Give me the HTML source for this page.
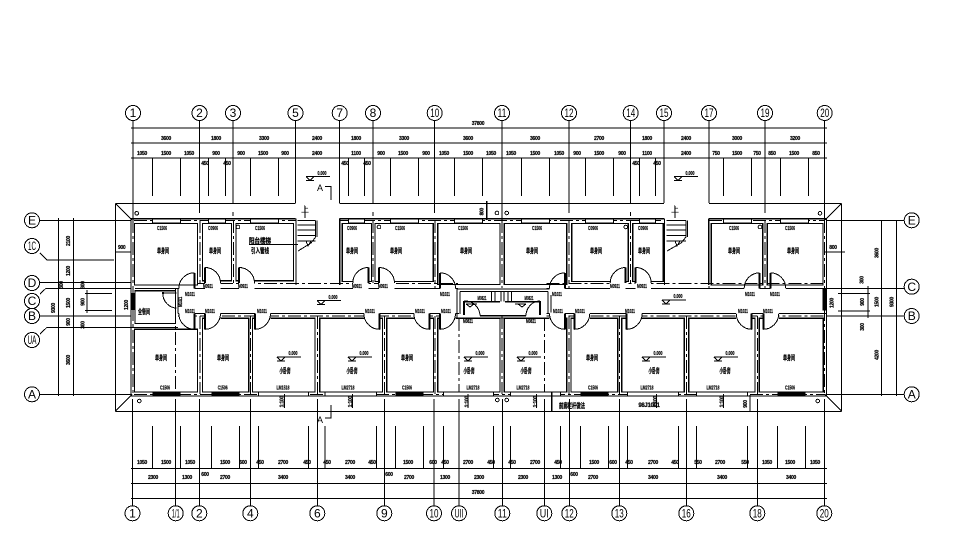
<!DOCTYPE html>
<html><head><meta charset="utf-8"><style>
html,body{margin:0;padding:0;background:#fff}
svg{display:block;shape-rendering:crispEdges}
text{font-family:"Liberation Sans","Noto Sans CJK SC",sans-serif;fill:#000;text-anchor:middle}
.s{font-size:5px;font-weight:bold;letter-spacing:-.3px;stroke:#000;stroke-width:.2px}
.p text{font-size:5px;letter-spacing:0}
.r{font-size:7px;font-weight:bold;stroke:#000;stroke-width:.25px}
.b{font-size:12px}
.l{fill:none;stroke:#000;stroke-width:1}
.h{fill:none;stroke:#000;stroke-width:1.1}
.d{fill:none;stroke:#000;stroke-width:1;stroke-dasharray:13 3 3 3}
.m{fill:#000}
circle{fill:#fff;stroke:#000;stroke-width:1}
</style></head><body>
<svg width="977" height="549" viewBox="0 0 977 549" xmlns="http://www.w3.org/2000/svg">
<defs>
<g id="q"><path d="M-15.5-3H0V6.5H-15.5Z" fill="#fff"/><path d="M0-15.5A15.5 15.5 0 0 0-15.5 0" class="l"/><path d="M0-15.5V0" fill="none" stroke="#000" stroke-width="2"/></g>
<g id="n"><path d="M-15.5-5.5H0V1H-15.5Z" fill="#fff"/><path d="M0-16A15.5 16 0 0 0-15.5 0" class="l"/><path d="M0-16V0" fill="none" stroke="#000" stroke-width="2"/></g>
<g id="v"><path d="M0 0H24M0 0L4 4L8 0M0 4H8" class="l"/></g>
</defs>
<rect width="977" height="549" fill="#fff"/>

<!-- dimension lines -->
<path class="l" d="M131 128H827M131 143H827M131 158H827M131 468.7H827M131 483.3H827M131 498.3H827"/>
<!-- top axes -->
<path class="l" d="M133 120V220M199.5 120V213M233 120V203M233 212V216M295.5 120V203M339.7 120V203M373 120V203M373 212V216M434.7 120V213M502 120V220M569 120V213M630.7 120V203M630.7 212V216M664 120V203M709 120V203M765 120V213M824.7 120V220"/>
<!-- top ticks -->
<path class="l" d="M152.7 158V196M180.7 158V196M208.7 158V196M225.3 158V196M250.7 158V196M278.7 158V196M348.3 158V196M364.3 158V196M390.7 158V196M418.7 158V196M454.7 158V196M482.7 158V196M521.3 158V196M549.3 158V196M585.7 158V196M613.7 158V196M639.7 158V196M655.3 158V196M723.3 158V196M751.3 158V196M780.3 158V196M808.3 158V196"/>
<!-- bottom axes -->
<path class="l" d="M132.5 399V506M175.7 399V506M199.3 399V506M250.3 399V506M317.3 399V506M384.3 399V506M434 399V506M459 399V506M502.3 399V506M544.3 399V506M569.3 399V506M619.3 399V506M686.3 399V506M757.3 399V506M824.3 399V506"/>
<!-- bottom ticks -->
<path class="l" d="M152.3 426V468M180.7 426V468M211.3 426V468M239.3 426V468M258.3 426V468M308.3 426V468M325 426V468M376.3 426V468M395.3 426V468M423.3 426V468M443.3 426V468M493.3 426V468M510.3 426V468M560.3 426V468M580.3 426V468M608.3 426V468M627.3 426V468M678.3 426V468M696.3 426V468M747.3 426V468M777.3 426V468M805.3 426V468"/>
<!-- eaves -->
<path class="l" d="M115.3 203.3H295.5M339.7 203.3H664M709 203.3H841.7M115.3 411.3H841.7M115.3 203.3V411.3M841.7 203.3V411.3M115.3 203.3L132 220M841.7 203.3L825 220M115.3 411.3L132 394.5M841.7 411.3L825 394.5"/>
<!-- horizontal axes -->
<path class="l" d="M40 220.3H131M40 282.7H131M40 294L46 288.3H131M40 316H131M40 334L47 327.3H131M40 394.3H131M40 253L47 260H114M826 220.3H904M826 288.3H904M826 316H904M826 394.3H904"/>
<!-- vertical dims -->
<path class="l" d="M58.3 218V396M73.3 218V396M881.7 220V396M896.7 220V396M87 290V313M85 293.3H112M85 310.7H112M868 286V318M838 293.3H870M838 311H870M115 252H131M825 252H845"/>
<!-- rooms -->
<g class="h">
<rect x="134.5" y="223.5" width="63" height="61.5"/>
<rect x="202.5" y="223.5" width="28.8" height="57.2"/>
<rect x="236" y="223.5" width="57.5" height="57.2"/>
<rect x="342.3" y="223.5" width="29.4" height="58"/>
<rect x="375" y="223.5" width="58.3" height="58"/>
<rect x="437.7" y="223.5" width="62.3" height="61"/>
<rect x="504.3" y="223.5" width="62.4" height="61"/>
<rect x="571.7" y="223.5" width="56.6" height="58"/>
<rect x="632.7" y="223.5" width="30.6" height="58"/>
<rect x="711.3" y="223.5" width="51.4" height="61.5"/>
<rect x="767.3" y="223.5" width="55.7" height="61.5"/>
<rect x="134.3" y="329.3" width="63.2" height="62.7"/>
<rect x="202.7" y="318.3" width="46" height="73.7"/>
<rect x="252.7" y="318.3" width="62.3" height="73.7"/>
<rect x="319.7" y="318.3" width="62.6" height="73.7"/>
<rect x="386.7" y="318.3" width="46.6" height="73.7"/>
<rect x="437.7" y="318.3" width="62.3" height="73.7"/>
<rect x="504.3" y="318.3" width="62.4" height="73.7"/>
<rect x="571" y="318.3" width="46.7" height="73.7"/>
<rect x="621.7" y="318.3" width="62.6" height="73.7"/>
<rect x="688.7" y="318.3" width="66.3" height="73.7"/>
<rect x="759.3" y="318.3" width="64" height="73.7"/>
<rect x="135" y="290.7" width="40.3" height="32.6"/>
</g>
<!-- outer walls -->
<path class="h" d="M131 218.7V396H826.5V218.7H709M664 218.7H339.7M295.5 218.7H131M296 218.7V285M339.7 218.7V285M664.5 218.7V285M708.7 218.7V285"/>
<path class="h" d="M131 327.3H178M178 288.3V313.3M135 288.3H178"/>
<!-- corridor walls -->
<path class="l" d="M178 288.3H458M546.7 288.3H826M178 313.3H460M546.7 313.3H826"/>
<path class="d" d="M198 283.5H458M546.7 283.5H824M178 316H458M546.7 316H824"/>
<!-- axis dashes in walls -->
<path class="d" d="M133 220V394M199.8 220V283M233.7 220V283M296 220V283M339.8 220V283M373 220V283M435 220V288M502.2 220V288M569 220V288M630.5 220V283M664.3 220V283M709 220V288M765 220V288M824.7 220V394M199.8 316V394M250.5 316V394M317.5 316V394M384.5 316V394M435 316V394M502.2 316V394M569 316V394M619.5 316V394M686.5 316V394M757.3 316V394M175.7 288V394M459 318V394M544.3 318V394"/>
<path class="d" d="M134 220.5H296M340 220.5H664M709 220.5H825M134 394.3H825"/>
<!-- windows -->
<g fill="#fff" stroke="#000"><rect x="152.7" y="219" width="28" height="4"/><rect x="208.7" y="219" width="16.6" height="4"/><rect x="250.7" y="219" width="28" height="4"/><rect x="348.3" y="219" width="16" height="4"/><rect x="390.7" y="219" width="28" height="4"/><rect x="454.7" y="219" width="28" height="4"/><rect x="521.3" y="219" width="28" height="4"/><rect x="585.7" y="219" width="28" height="4"/><rect x="639.7" y="219" width="15.6" height="4"/><rect x="723.3" y="219" width="28" height="4"/><rect x="780.3" y="219" width="28" height="4"/>
<rect x="258.3" y="392" width="50" height="4"/><rect x="325" y="392" width="51.3" height="4"/><rect x="443.3" y="392" width="50" height="4"/><rect x="510.3" y="392" width="50" height="4"/><rect x="627.3" y="392" width="51" height="4"/><rect x="696.3" y="392" width="51" height="4"/></g>
<g class="m"><rect x="152.3" y="392" width="28.4" height="4"/><rect x="211.3" y="392" width="28" height="4"/><rect x="395.3" y="392" width="28" height="4"/><rect x="580.3" y="392" width="28" height="4"/><rect x="777.3" y="392" width="28" height="4"/><rect x="131" y="293" width="3.5" height="17"/><rect x="822.7" y="289" width="3.8" height="21.7"/></g>

<!-- washroom -->
<path fill="#fff" d="M459 289H546V313.8H459Z"/>
<path class="h" d="M457 288V318M460 291.5V314M457 289H551M460 291.5H548M548 291.5V314M551 288V318M464 301.7H500M505 301.7H540M480 315.7H526M480 318H526"/>
<path class="l" d="M491.7 291.5V301.7M501 291.5V301.7M495 291.5V301.7M504 291.5V301.7M511.7 291.5V301.7M508 291.5V301.7"/>
<path class="l" d="M464 301A15 15 0 0 1 480 315.7M540 301A14 15 0 0 0 526 315.7"/>
<path fill="none" stroke="#000" stroke-width="2" d="M464 301V315M540 301V315"/>
<!-- doors -->
<use href="#q" transform="translate(194.3,288.3)"/>
<use href="#q" transform="translate(205,283) scale(-1,1)"/>
<use href="#q" transform="translate(239,283) scale(-1,1)"/>
<use href="#q" transform="translate(368.3,283)"/>
<use href="#q" transform="translate(379,283) scale(-1,1)"/>
<use href="#q" transform="translate(440,288.3) scale(-1,1)"/>
<use href="#q" transform="translate(565,288.3)"/>
<use href="#q" transform="translate(625.7,283)"/>
<use href="#q" transform="translate(635.7,283) scale(-1,1)"/>
<use href="#q" transform="translate(759.7,288.3)"/>
<use href="#q" transform="translate(770.3,288.3) scale(-1,1)"/>
<use href="#n" transform="translate(194.3,313.3) scale(1,-1)"/>
<use href="#n" transform="translate(205,313.3) scale(-1,-1)"/>
<use href="#n" transform="translate(255,313.3) scale(-1,-1)"/>
<use href="#n" transform="translate(379.3,313.3) scale(1,-1)"/>
<use href="#n" transform="translate(429.3,313.3) scale(1,-1)"/>
<use href="#n" transform="translate(440,313.3) scale(-1,-1)"/>
<use href="#n" transform="translate(565,313.3) scale(1,-1)"/>
<use href="#n" transform="translate(574.3,313.3) scale(-1,-1)"/>
<use href="#n" transform="translate(626.7,313.3) scale(-1,-1)"/>
<use href="#n" transform="translate(751.7,313.3) scale(1,-1)"/>
<use href="#n" transform="translate(763.3,313.3) scale(-1,-1)"/>
<path class="l" d="M162.7 293H176.7M162.7 293A14 15 0 0 0 176.7 308"/>
<rect x="162" y="292" width="2" height="2" class="m"/>
<!-- stairs -->
<path class="l" d="M297.7 220.7H315.7M297.7 225H315.7M297.7 230H315.7M297.7 235.7H315.7M297.7 241H315.7M315.7 220.7V237L311 243L298 251M317 220.7V237M306 241L308 246L311 241M249 244.3H298M305 206V218"/>
<path class="l" d="M666.7 220.7H686M666.7 225H686M666.7 230H686M666.7 235.7H686M666.7 241H686M686 220.7V237L681 243L667 251M687.3 220.7V237M675 241L677 246L680 241M675 206V218"/>
<!-- small circles -->
<g>
<circle cx="136.7" cy="213.3" r="1.8"/><circle cx="497" cy="213" r="1.8"/><circle cx="506.7" cy="213" r="1.8"/><circle cx="820" cy="213.3" r="1.8"/>
<circle cx="139.3" cy="401" r="1.8"/><circle cx="497.3" cy="400" r="1.8"/><circle cx="506.7" cy="400" r="1.8"/><circle cx="817.7" cy="401" r="1.8"/>
<circle cx="238" cy="227" r="1.8"/><circle cx="379" cy="227" r="1.8"/><circle cx="625.7" cy="227" r="1.8"/><circle cx="760" cy="227" r="1.8"/>
</g>
<!-- level marks -->
<use href="#v" x="277" y="357"/><use href="#v" x="317" y="300.7"/><use href="#v" x="348" y="357"/><use href="#v" x="464" y="357"/><use href="#v" x="517" y="357"/><use href="#v" x="642" y="357"/><use href="#v" x="714" y="357"/><use href="#v" x="662" y="300"/><use href="#v" x="306" y="176.7"/><use href="#v" x="674" y="176.7"/>
<path class="l" d="M466 304H477M466 304L470 307L474 304M515 304H526M518 304L522 307L526 304"/>
<!-- section marks -->
<path class="l" d="M325 186.7H331V200M325 418H331V405"/>
<!-- eave extras -->
<path class="h" d="M486.7 201V220M551.7 392V411M750 395V411M284.5 394V408M352.5 394V408M468 394V408M536.5 394V408M656.5 394V408M723.5 394V408"/>
<!-- bubbles -->
<g>
<circle cx="133" cy="113" r="7.5"/><circle cx="199.5" cy="113" r="7.5"/><circle cx="233" cy="113" r="7.5"/><circle cx="295.5" cy="113" r="7.5"/><circle cx="339.7" cy="113" r="7.5"/><circle cx="373" cy="113" r="7.5"/><circle cx="434.7" cy="113" r="7.5"/><circle cx="502" cy="113" r="7.5"/><circle cx="569" cy="113" r="7.5"/><circle cx="630.7" cy="113" r="7.5"/><circle cx="664" cy="113" r="7.5"/><circle cx="709" cy="113" r="7.5"/><circle cx="765" cy="113" r="7.5"/><circle cx="824.7" cy="113" r="7.5"/>
<circle cx="132.5" cy="513.3" r="7.5"/><circle cx="175.7" cy="513.3" r="7.5"/><circle cx="199.3" cy="513.3" r="7.5"/><circle cx="250.3" cy="513.3" r="7.5"/><circle cx="317.3" cy="513.3" r="7.5"/><circle cx="384.3" cy="513.3" r="7.5"/><circle cx="434" cy="513.3" r="7.5"/><circle cx="459" cy="513.3" r="7.5"/><circle cx="502.3" cy="513.3" r="7.5"/><circle cx="544.3" cy="513.3" r="7.5"/><circle cx="569.3" cy="513.3" r="7.5"/><circle cx="619.3" cy="513.3" r="7.5"/><circle cx="686.3" cy="513.3" r="7.5"/><circle cx="757.3" cy="513.3" r="7.5"/><circle cx="824.3" cy="513.3" r="7.5"/>
<circle cx="32" cy="220.3" r="7.5"/><circle cx="32" cy="246" r="7.5"/><circle cx="32" cy="283" r="7.5"/><circle cx="32" cy="301" r="7.5"/><circle cx="32" cy="316" r="7.5"/><circle cx="32" cy="340" r="7.5"/><circle cx="32" cy="394.3" r="7.5"/>
<circle cx="911.7" cy="220.3" r="7.5"/><circle cx="911.7" cy="286.7" r="7.5"/><circle cx="911.7" cy="316" r="7.5"/><circle cx="911.7" cy="394.3" r="7.5"/>
</g>
<g class="b">
<text x="133" y="117">1</text><text x="199.5" y="117">2</text><text x="233" y="117">3</text><text x="295.5" y="117">5</text><text x="339.7" y="117">7</text><text x="373" y="117">8</text><text x="434.7" y="117" textLength="9" lengthAdjust="spacingAndGlyphs">10</text><text x="502" y="117" textLength="9" lengthAdjust="spacingAndGlyphs">11</text><text x="569" y="117" textLength="9" lengthAdjust="spacingAndGlyphs">12</text><text x="630.7" y="117" textLength="9" lengthAdjust="spacingAndGlyphs">14</text><text x="664" y="117" textLength="9" lengthAdjust="spacingAndGlyphs">15</text><text x="709" y="117" textLength="9" lengthAdjust="spacingAndGlyphs">17</text><text x="765" y="117" textLength="9" lengthAdjust="spacingAndGlyphs">19</text><text x="824.7" y="117" textLength="9" lengthAdjust="spacingAndGlyphs">20</text>
<text x="132.5" y="517.5">1</text><text x="175.7" y="517.5" textLength="8" lengthAdjust="spacingAndGlyphs">1/1</text><text x="199.3" y="517.5">2</text><text x="250.3" y="517.5">4</text><text x="317.3" y="517.5">6</text><text x="384.3" y="517.5">9</text><text x="434" y="517.5" textLength="9" lengthAdjust="spacingAndGlyphs">10</text><text x="459" y="517.5" textLength="9" lengthAdjust="spacingAndGlyphs">UII</text><text x="502.3" y="517.5" textLength="9" lengthAdjust="spacingAndGlyphs">11</text><text x="544.3" y="517.5" textLength="9" lengthAdjust="spacingAndGlyphs">UI</text><text x="569.3" y="517.5" textLength="9" lengthAdjust="spacingAndGlyphs">12</text><text x="619.3" y="517.5" textLength="9" lengthAdjust="spacingAndGlyphs">13</text><text x="686.3" y="517.5" textLength="9" lengthAdjust="spacingAndGlyphs">16</text><text x="757.3" y="517.5" textLength="9" lengthAdjust="spacingAndGlyphs">18</text><text x="824.3" y="517.5" textLength="9" lengthAdjust="spacingAndGlyphs">20</text>
<text x="32" y="224.5">E</text><text x="32" y="250" textLength="8" lengthAdjust="spacingAndGlyphs">1C</text><text x="32" y="287">D</text><text x="32" y="305">C</text><text x="32" y="320">B</text><text x="32" y="344" textLength="9" lengthAdjust="spacingAndGlyphs">UA</text><text x="32" y="398.5">A</text>
<text x="911.7" y="224.5">E</text><text x="911.7" y="291">C</text><text x="911.7" y="320">B</text><text x="911.7" y="398.5">A</text>
</g>
<!-- dim labels -->
<g class="s">
<text x="478" y="125">37800</text>
<text x="166" y="140">3600</text><text x="216" y="140">1800</text><text x="264" y="140">3300</text><text x="317" y="140">2400</text><text x="356" y="140">1800</text><text x="404" y="140">3300</text><text x="468" y="140">3600</text><text x="535" y="140">3600</text><text x="599" y="140">2700</text><text x="647" y="140">1800</text><text x="686" y="140">2400</text><text x="737" y="140">3000</text><text x="795" y="140">3200</text>
<text x="142" y="155">1050</text><text x="166" y="155">1500</text><text x="189" y="155">1050</text><text x="216" y="155">900</text><text x="241" y="155">900</text><text x="263" y="155">1500</text><text x="285" y="155">900</text><text x="317" y="155">2400</text><text x="356" y="155">1100</text><text x="381" y="155">900</text><text x="403" y="155">1500</text><text x="426" y="155">900</text><text x="444" y="155">1050</text><text x="468" y="155">1500</text><text x="491" y="155">1050</text><text x="511" y="155">1050</text><text x="535" y="155">1500</text><text x="559" y="155">1050</text><text x="577" y="155">900</text><text x="599" y="155">1500</text><text x="622" y="155">900</text><text x="647" y="155">1100</text><text x="686" y="155">2400</text><text x="716" y="155">750</text><text x="737" y="155">1500</text><text x="757" y="155">750</text><text x="772" y="155">850</text><text x="794" y="155">1500</text><text x="816" y="155">850</text>
<text x="205" y="165">450</text><text x="227" y="165">450</text><text x="345" y="165">450</text><text x="367" y="165">450</text><text x="636" y="165">450</text><text x="657" y="165">450</text>
<text x="142" y="464">1050</text><text x="166" y="464">1500</text><text x="190" y="464">1050</text><text x="225" y="464">1500</text><text x="243" y="464">600</text><text x="260" y="464">450</text><text x="283" y="464">2700</text><text x="307" y="464">450</text><text x="327" y="464">450</text><text x="350" y="464">2700</text><text x="372" y="464">450</text><text x="408" y="464">1500</text><text x="433" y="464">600</text><text x="445" y="464">450</text><text x="468" y="464">2700</text><text x="491" y="464">450</text><text x="512" y="464">450</text><text x="535" y="464">2700</text><text x="558" y="464">450</text><text x="594" y="464">1500</text><text x="613" y="464">600</text><text x="629" y="464">450</text><text x="653" y="464">2700</text><text x="675" y="464">450</text><text x="698" y="464">550</text><text x="720" y="464">2700</text><text x="745" y="464">550</text><text x="767" y="464">1050</text><text x="790" y="464">1500</text><text x="815" y="464">1050</text>
<text x="153" y="479">2300</text><text x="187" y="479">1300</text><text x="205" y="476">600</text><text x="225" y="479">2700</text><text x="283" y="479">3400</text><text x="350" y="479">3400</text><text x="389" y="476">600</text><text x="409" y="479">2700</text><text x="445" y="479">1300</text><text x="479" y="479">2300</text><text x="523" y="479">2300</text><text x="557" y="479">1300</text><text x="574" y="476">600</text><text x="593" y="479">2700</text><text x="653" y="479">3400</text><text x="722" y="479">3400</text><text x="791" y="479">3400</text>
<text x="478" y="494">37800</text>
<text x="121.7" y="249">900</text><text x="833" y="249">800</text>
<text transform="rotate(-90 68 241)" x="68" y="243">2100</text>
<text transform="rotate(-90 68 271)" x="68" y="273">1200</text>
<text transform="rotate(-90 61 285)" x="61" y="287">300</text>
<text transform="rotate(-90 68 303)" x="68" y="305">1500</text>
<text transform="rotate(-90 68 322)" x="68" y="324">900</text>
<text transform="rotate(-90 68 360)" x="68" y="362">3600</text>
<text transform="rotate(-90 53 308)" x="53" y="310">9300</text>
<text transform="rotate(-90 82.7 285)" x="82.7" y="287">300</text>
<text transform="rotate(-90 82.7 302)" x="82.7" y="304">900</text>
<text transform="rotate(-90 82.7 325)" x="82.7" y="327">300</text>
<text transform="rotate(-90 126 305)" x="126" y="307">1200</text>
<text transform="rotate(-90 831.7 303)" x="831.7" y="305">1200</text>
<text transform="rotate(-90 861.7 280)" x="861.7" y="282">300</text>
<text transform="rotate(-90 862 302)" x="862" y="304">900</text>
<text transform="rotate(-90 862 327)" x="862" y="329">300</text>
<text transform="rotate(-90 876.7 302)" x="876.7" y="304">1500</text>
<text transform="rotate(-90 876.7 253)" x="876.7" y="255">3600</text>
<text transform="rotate(-90 876.7 355)" x="876.7" y="357">4200</text>
<text transform="rotate(-90 891.7 302)" x="891.7" y="304">9300</text>
<text transform="rotate(-90 481.7 211.7)" x="481.7" y="213.7">800</text>
<text transform="rotate(-90 281.7 401.7)" x="281.7" y="403.7">1:100</text>
<text transform="rotate(-90 350 401.7)" x="350" y="403.7">1:100</text>
<text transform="rotate(-90 466.7 401.7)" x="466.7" y="403.7">1:100</text>
<text transform="rotate(-90 535 401.7)" x="535" y="403.7">1:100</text>
<text transform="rotate(-90 655 401.7)" x="655" y="403.7">1:100</text>
<text transform="rotate(-90 721.7 401.7)" x="721.7" y="403.7">1:100</text>
<text transform="rotate(-90 745 404)" x="745" y="406">900</text>
<text transform="rotate(-90 180 302)" x="180" y="304" textLength="10" lengthAdjust="spacingAndGlyphs">M1021</text>
<text x="649" y="407" style="font-size:6px">98J1001</text>
</g>
<!-- door labels -->
<g class="s p">
<text x="190" y="296" textLength="10" lengthAdjust="spacingAndGlyphs">M1021</text><text x="190" y="313" textLength="10" lengthAdjust="spacingAndGlyphs">M1021</text><text x="210" y="313" textLength="10" lengthAdjust="spacingAndGlyphs">M1021</text><text x="262" y="313" textLength="10" lengthAdjust="spacingAndGlyphs">M1021</text><text x="208" y="288" textLength="10" lengthAdjust="spacingAndGlyphs">M0921</text><text x="243" y="288" textLength="10" lengthAdjust="spacingAndGlyphs">M0921</text><text x="370" y="313" textLength="10" lengthAdjust="spacingAndGlyphs">M1021</text><text x="420" y="313" textLength="10" lengthAdjust="spacingAndGlyphs">M1021</text><text x="446" y="313" textLength="10" lengthAdjust="spacingAndGlyphs">M1021</text><text x="445" y="296" textLength="10" lengthAdjust="spacingAndGlyphs">M1021</text><text x="357" y="288" textLength="10" lengthAdjust="spacingAndGlyphs">M0921</text><text x="383" y="288" textLength="10" lengthAdjust="spacingAndGlyphs">M0921</text><text x="482" y="300" textLength="9" lengthAdjust="spacingAndGlyphs">M0821</text><text x="529" y="300" textLength="9" lengthAdjust="spacingAndGlyphs">M0821</text><text x="468" y="323" textLength="10" lengthAdjust="spacingAndGlyphs">M0821</text><text x="531" y="323" textLength="10" lengthAdjust="spacingAndGlyphs">M0821</text><text x="557" y="296" textLength="10" lengthAdjust="spacingAndGlyphs">M1021</text><text x="558" y="313" textLength="10" lengthAdjust="spacingAndGlyphs">M1021</text><text x="580" y="313" textLength="10" lengthAdjust="spacingAndGlyphs">M1021</text><text x="630" y="313" textLength="10" lengthAdjust="spacingAndGlyphs">M1021</text><text x="615" y="288" textLength="10" lengthAdjust="spacingAndGlyphs">M0921</text><text x="642" y="288" textLength="10" lengthAdjust="spacingAndGlyphs">M0921</text><text x="750" y="296" textLength="10" lengthAdjust="spacingAndGlyphs">M1021</text><text x="775" y="296" textLength="10" lengthAdjust="spacingAndGlyphs">M1021</text><text x="743" y="313" textLength="10" lengthAdjust="spacingAndGlyphs">M1021</text><text x="768" y="313" textLength="10" lengthAdjust="spacingAndGlyphs">M1021</text>
<text x="162" y="230" textLength="10" lengthAdjust="spacingAndGlyphs">C1506</text><text x="213" y="230" textLength="10" lengthAdjust="spacingAndGlyphs">C0906</text><text x="260" y="230" textLength="10" lengthAdjust="spacingAndGlyphs">C1506</text><text x="352" y="230" textLength="10" lengthAdjust="spacingAndGlyphs">C0906</text><text x="400" y="230" textLength="10" lengthAdjust="spacingAndGlyphs">C1506</text><text x="463" y="230" textLength="10" lengthAdjust="spacingAndGlyphs">C1506</text><text x="537" y="230" textLength="10" lengthAdjust="spacingAndGlyphs">C1506</text><text x="593" y="230" textLength="10" lengthAdjust="spacingAndGlyphs">C0906</text><text x="643" y="230" textLength="10" lengthAdjust="spacingAndGlyphs">C0906</text><text x="734" y="230" textLength="10" lengthAdjust="spacingAndGlyphs">C1506</text><text x="790" y="230" textLength="10" lengthAdjust="spacingAndGlyphs">C1506</text>
<text x="165" y="389.5" textLength="10" lengthAdjust="spacingAndGlyphs">C1506</text><text x="222.7" y="389.5" textLength="10" lengthAdjust="spacingAndGlyphs">C1506</text><text x="283" y="389.5" textLength="13" lengthAdjust="spacingAndGlyphs">LM1518</text><text x="348" y="389.5" textLength="13" lengthAdjust="spacingAndGlyphs">LM2718</text><text x="407" y="389.5" textLength="10" lengthAdjust="spacingAndGlyphs">C1506</text><text x="473" y="389.5" textLength="13" lengthAdjust="spacingAndGlyphs">LM2718</text><text x="523" y="389.5" textLength="13" lengthAdjust="spacingAndGlyphs">LM2718</text><text x="593" y="389.5" textLength="10" lengthAdjust="spacingAndGlyphs">C1506</text><text x="647" y="389.5" textLength="13" lengthAdjust="spacingAndGlyphs">LM2718</text><text x="713" y="389.5" textLength="13" lengthAdjust="spacingAndGlyphs">LM2718</text><text x="790" y="389.5" textLength="10" lengthAdjust="spacingAndGlyphs">C1506</text>
<text x="293" y="355" textLength="9" lengthAdjust="spacingAndGlyphs">0.000</text><text x="333" y="299" textLength="9" lengthAdjust="spacingAndGlyphs">0.000</text><text x="364" y="355" textLength="9" lengthAdjust="spacingAndGlyphs">0.000</text><text x="480" y="355" textLength="9" lengthAdjust="spacingAndGlyphs">0.000</text><text x="533" y="355" textLength="9" lengthAdjust="spacingAndGlyphs">0.000</text><text x="658" y="355" textLength="9" lengthAdjust="spacingAndGlyphs">0.000</text><text x="730" y="355" textLength="9" lengthAdjust="spacingAndGlyphs">0.000</text><text x="678" y="298" textLength="9" lengthAdjust="spacingAndGlyphs">0.000</text><text x="322" y="175" textLength="9" lengthAdjust="spacingAndGlyphs">0.000</text><text x="690" y="175" textLength="9" lengthAdjust="spacingAndGlyphs">0.000</text>
</g>
<g class="r">
<text x="163" y="253" textLength="12" lengthAdjust="spacingAndGlyphs">单身间</text><text x="215" y="253" textLength="12" lengthAdjust="spacingAndGlyphs">单身间</text><text x="352" y="253" textLength="12" lengthAdjust="spacingAndGlyphs">单身间</text><text x="396" y="253" textLength="12" lengthAdjust="spacingAndGlyphs">单身间</text><text x="466" y="253" textLength="12" lengthAdjust="spacingAndGlyphs">单身间</text><text x="532" y="253" textLength="12" lengthAdjust="spacingAndGlyphs">单身间</text><text x="596" y="253" textLength="12" lengthAdjust="spacingAndGlyphs">单身间</text><text x="644" y="253" textLength="12" lengthAdjust="spacingAndGlyphs">单身间</text><text x="734" y="253" textLength="12" lengthAdjust="spacingAndGlyphs">单身间</text><text x="793" y="253" textLength="12" lengthAdjust="spacingAndGlyphs">单身间</text>
<text x="161" y="360" textLength="12" lengthAdjust="spacingAndGlyphs">单身间</text><text x="223" y="360" textLength="12" lengthAdjust="spacingAndGlyphs">单身间</text><text x="407" y="360" textLength="12" lengthAdjust="spacingAndGlyphs">单身间</text><text x="592" y="360" textLength="12" lengthAdjust="spacingAndGlyphs">单身间</text><text x="789" y="360" textLength="12" lengthAdjust="spacingAndGlyphs">单身间</text>
<text x="285" y="373" textLength="11" lengthAdjust="spacingAndGlyphs">小卧房</text><text x="352" y="373" textLength="11" lengthAdjust="spacingAndGlyphs">小卧房</text><text x="469" y="373" textLength="11" lengthAdjust="spacingAndGlyphs">小卧房</text><text x="526" y="373" textLength="11" lengthAdjust="spacingAndGlyphs">小卧房</text><text x="654" y="373" textLength="11" lengthAdjust="spacingAndGlyphs">小卧房</text><text x="725" y="373" textLength="11" lengthAdjust="spacingAndGlyphs">小卧房</text>
<text x="144" y="314" textLength="12" lengthAdjust="spacingAndGlyphs">全餐间</text>
<text x="260" y="243" textLength="22" lengthAdjust="spacingAndGlyphs">阳台楼梯</text><text x="260" y="253" textLength="18" lengthAdjust="spacingAndGlyphs">引入管线</text>
<text x="572" y="408" textLength="26" lengthAdjust="spacingAndGlyphs">前廊栏杆做法</text>
</g>
<text x="305" y="212" style="font-size:8px">上</text><text x="675" y="212" style="font-size:8px">上</text><text x="320" y="191" style="font-size:9px">A</text><text x="320" y="423" style="font-size:9px">A</text>
</svg>
</body></html>
